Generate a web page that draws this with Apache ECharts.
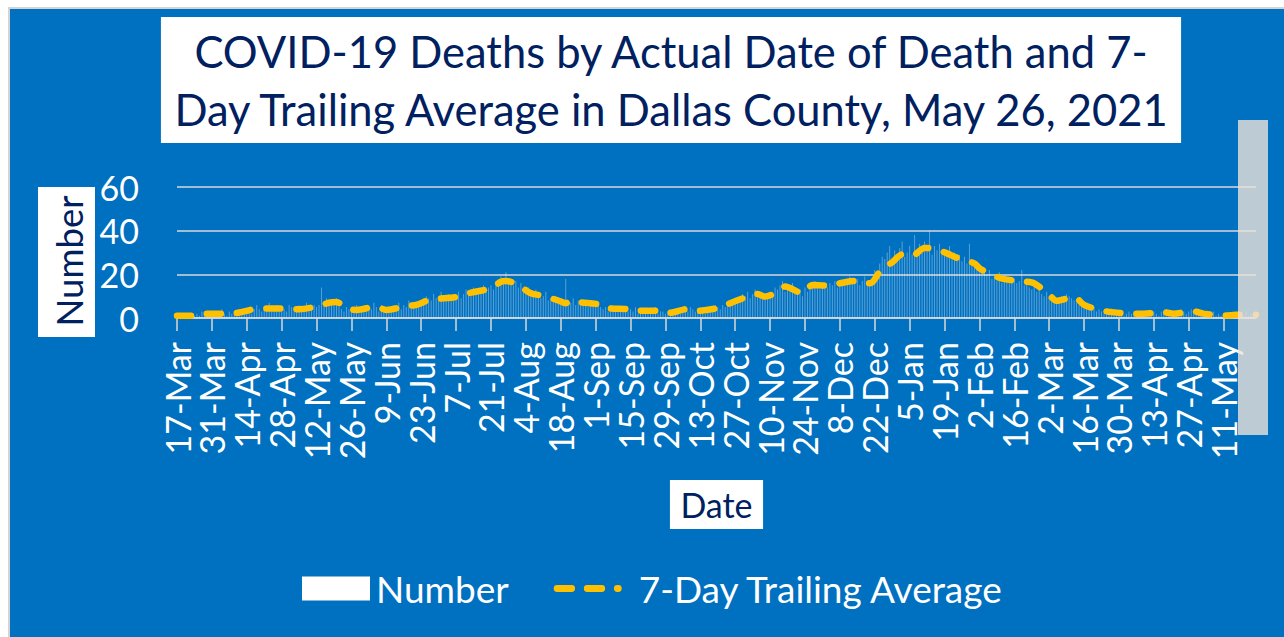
<!DOCTYPE html>
<html>
<head>
<meta charset="utf-8">
<script src="https://cdn.jsdelivr.net/npm/echarts@6/dist/echarts.min.js"></script>
<style>
  html, body { margin: 0; padding: 0; background: #fff; }
  #wrap { position: absolute; left: 8px; top: 7px; border-left: 2px solid #d4d4d4; border-top: 2px solid #d4d4d4; }
  #chart { width: 1274px; height: 628px; }
</style>
</head>
<body>
<div id="wrap"><div id="chart"></div></div>
<script>
// day 0 = 17-Mar-2020, one value per day, 14 days per row
var deaths = [
  0,1,0,1,2,1,0,1,2,1,3,2,1,2,
  2,3,1,2,4,2,1,3,2,3,1,2,4,3,
  3,5,2,4,6,4,3,5,4,7,3,4,6,4,
  5,4,3,6,5,3,4,6,4,5,7,3,5,6,
  5,6,14,6,9,7,8,6,9,5,4,3,5,4,
  3,4,6,3,5,4,6,5,4,7,5,3,6,4,
  3,5,4,6,5,7,4,6,5,8,6,5,7,6,
  8,7,10,9,8,11,9,8,12,10,9,11,10,9,
  10,12,9,11,13,12,10,14,12,11,13,15,12,14,
  15,13,17,16,19,17,21,18,16,15,17,14,16,13,
  12,14,11,10,13,11,9,10,12,8,9,10,7,8,
  6,7,18,8,7,9,6,8,7,6,8,5,7,6,
  6,7,5,4,5,3,6,4,5,3,4,5,4,3,
  4,3,5,2,3,4,3,2,4,3,5,2,3,3,
  2,3,1,2,4,3,2,5,4,3,5,4,3,4,
  3,4,2,5,4,3,6,5,4,6,5,7,6,8,
  7,9,8,11,10,12,9,11,13,10,12,9,11,10,
  12,11,14,13,15,17,12,14,13,16,11,12,13,10,
  14,12,16,15,17,14,13,16,15,14,16,15,17,14,
  15,17,16,18,19,16,17,18,15,17,19,16,15,18,
  22,20,25,28,27,30,33,26,31,29,32,35,28,30,
  33,29,38,31,34,30,35,32,40,29,33,31,34,30,
  31,29,33,28,30,27,29,26,28,25,34,24,26,23,
  24,21,23,20,22,18,19,17,21,16,18,17,19,16,
  18,16,17,22,15,16,14,13,15,12,13,11,10,12,
  9,8,7,9,8,10,9,11,10,9,8,7,6,8,
  7,5,6,4,5,3,4,3,2,4,3,2,3,2,
  2,3,1,2,3,2,1,2,3,2,1,3,2,2,
  3,2,1,3,2,4,3,2,1,3,2,4,3,2,
  3,4,2,3,2,1,3,2,1,2,3,1,2,1,
  1,2,1,0,1,2,1,2,1,3,1,2,1,1
];

// 7-day trailing average
var avgDay = [0,8,12,21,25,33,37,45,49,57,61,64,68,72,80,84,92,96,102,107,114,118,126,130,132,137,
  142,147,153,156,158,162,169,173,181,185,193,197,205,209,218,222,229,233,236,240,244,251,255,263,
  266,274,278,283,287,291,295,300,304,309,313,320,322,328,332,340,344,350,353,360,364,371,375,383,
  388,396,400,408,412,421,425,433];
var avgValue = [1,1,2,2,2.5,4.3,4.3,4.3,4,5.5,7,7.3,4.3,3.7,5.2,3.7,5.5,6,8.6,9,10,11.6,13.6,16.6,17,15.1,
  11.3,10.2,8,6.8,8,7.2,6.3,4.5,4.1,3.3,3.3,2.3,4.1,3.3,4.8,6.8,9.8,11,9.8,11.4,14.4,11.4,15.1,14.7,
  15.9,17.1,15.9,22.8,25.5,29.1,28.5,32.1,31.7,29.6,27.6,25,22.8,19.3,17.8,16.7,15.9,10.6,7.9,9.6,6,3.5,2.7,2,
  2,2.6,2,3,2,1.1,1.5,1.5];

var months = ['Jan','Feb','Mar','Apr','May','Jun','Jul','Aug','Sep','Oct','Nov','Dec'];
var startDate = Date.UTC(2020, 2, 17);
function dayLabel(d) {
  var dt = new Date(startDate + d * 86400000);
  return dt.getUTCDate() + '-' + months[dt.getUTCMonth()];
}

var font = 'Lato, "Open Sans", sans-serif';
var navy = '#002060';
// three yellow dashes for the legend
var dashIcon = 'path://M3.5,0H18.5A3.5,3.5,0,0,1,18.5,7H3.5A3.5,3.5,0,0,1,3.5,0Z' +
  'M34.5,0H49.5A3.5,3.5,0,0,1,49.5,7H34.5A3.5,3.5,0,0,1,34.5,0Z' +
  'M65.5,0H66.5A3.5,3.5,0,0,1,66.5,7H65.5A3.5,3.5,0,0,1,65.5,0Z';

var myChart = echarts.init(document.getElementById('chart'), null, {renderer: 'svg'});
var option = {
  backgroundColor: '#0070C0',
  textStyle: {fontFamily: font},
  title: {
    text: 'COVID-19 Deaths by Actual Date of Death and 7-\nDay Trailing Average in Dallas County, May 26, 2021',
    left: 650,
    top: 8,
    backgroundColor: '#fff',
    padding: [5, 11, 5, 11],
    textAlign: 'center',
    textStyle: {color: navy, fontSize: 43.5, fontWeight: 'normal', lineHeight: 58, fontFamily: font}
  },
  legend: {
    left: 287,
    top: 556,
    itemWidth: 68,
    itemHeight: 24,
    itemGap: 45,
    textStyle: {color: '#fff', fontSize: 37, fontFamily: font},
    data: [
      {name: 'Number', icon: 'rect', itemStyle: {color: '#fff', opacity: 1}, textStyle: {padding: [0, 0, 0, 1]}},
      {name: '7-Day Trailing Average', icon: dashIcon, itemStyle: {color: '#FFC000'}, textStyle: {padding: [0, 0, 0, 12]}}
    ]
  },
  grid: {left: 167, top: 178, width: 1079, height: 131, containLabel: false},
  xAxis: {
    type: 'value',
    min: 0,
    max: 433,
    interval: 14,
    name: 'Date',
    nameLocation: 'middle',
    nameGap: 162,
    nameTextStyle: {color: navy, fontSize: 34, backgroundColor: '#fff', padding: [7.5, 10.5, 7.5, 10.5], fontFamily: font},
    axisLine: {lineStyle: {color: '#d9d9d9', width: 1.5}},
    axisTick: {show: true, length: 13, lineStyle: {color: '#d9d9d9', width: 1.5}},
    splitLine: {show: false},
    axisLabel: {
      rotate: 90,
      color: '#fff',
      fontSize: 34,
      margin: 24,
      showMaxLabel: false,
      formatter: function (v) { return v % 14 ? '' : dayLabel(v); }
    }
  },
  yAxis: {
    type: 'value',
    min: 0,
    max: 60,
    interval: 20,
    axisLine: {show: false},
    axisTick: {show: false},
    axisLabel: {color: '#fff', fontSize: 34, margin: 38},
    splitLine: {lineStyle: {color: '#d9d9d9', width: 1.5}}
  },
  series: [
    {
      name: 'Number',
      type: 'bar',
      barWidth: 1,
      itemStyle: {color: 'rgba(255,255,255,0.35)'},
      data: deaths.map(function (v, i) { return [i, v]; })
    },
    {
      name: '7-Day Trailing Average',
      type: 'line',
      smooth: 0.3,
      symbol: 'none',
      lineStyle: {color: '#FFC000', width: 6.5, type: [14, 16], cap: 'round'},
      itemStyle: {color: '#FFC000'},
      data: avgDay.map(function (d, i) { return [d, avgValue[i]]; })
    }
  ],
  graphic: [
    // y axis title: white box and rotated text
    {
      type: 'rect',
      shape: {x: 28, y: 178, width: 57, height: 150},
      style: {fill: '#fff'}
    },
    {
      type: 'text',
      x: 58.5,
      y: 252,
      rotation: Math.PI / 2,
      style: {
        text: 'Number', fill: navy, font: '36.5px ' + font,
        align: 'center', verticalAlign: 'middle'
      }
    },
    {
      type: 'rect',
      z: 100,
      shape: {x: 1228, y: 111, width: 30, height: 315},
      style: {fill: 'rgba(236,226,218,0.8)'}
    }
  ]
};
myChart.setOption(option);
</script>
</body>
</html>
